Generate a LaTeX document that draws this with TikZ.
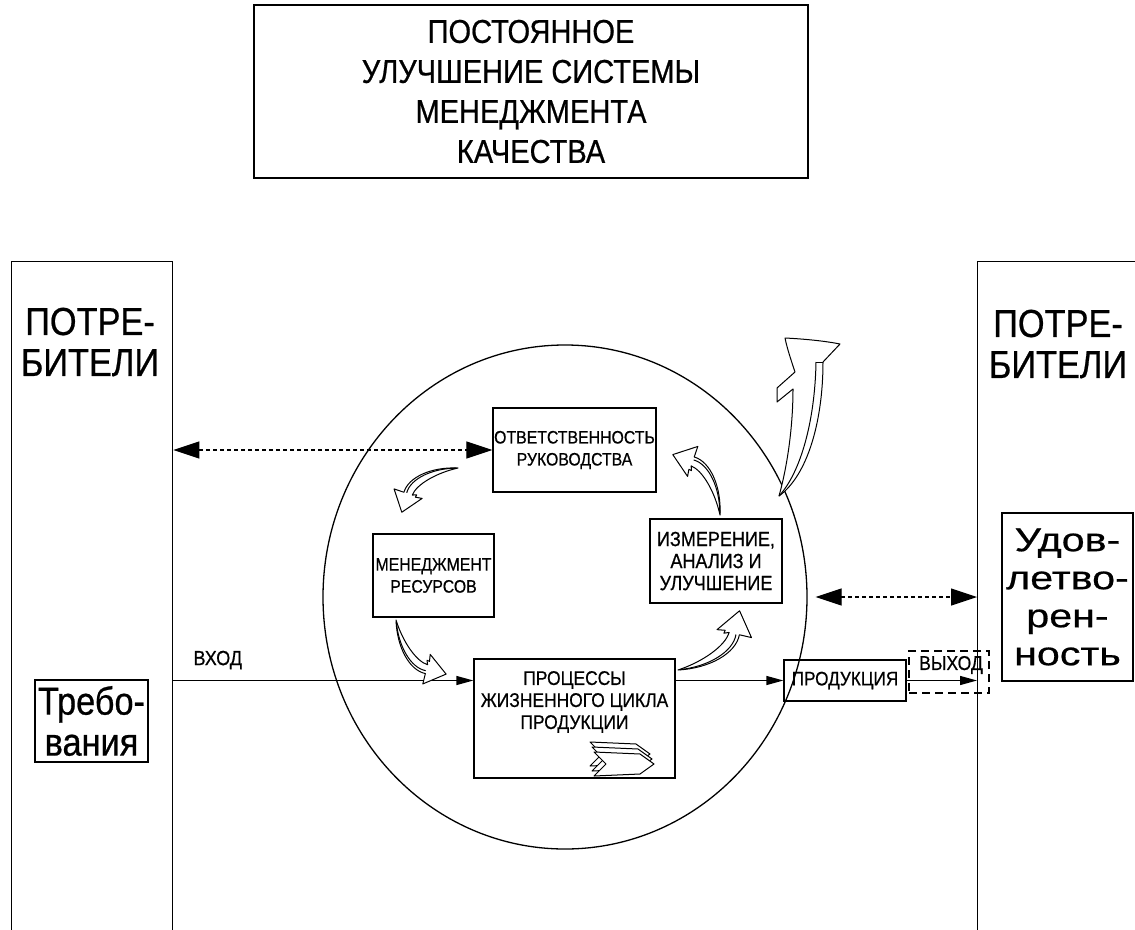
\documentclass[tikz,border=0pt]{standalone}
\usepackage{fontspec}
\setmainfont{Liberation Sans}
\newfontfamily\capsfont[FakeStretch=0.88, FakeBold=0.6]{Liberation Sans}
\newfontfamily\widefont[FakeStretch=1.25, FakeBold=0.6]{Liberation Sans}
\usetikzlibrary{arrows.meta,calc,shapes.geometric}

\tikzset{
  ribbon/.style={draw=black, line width=1pt, fill=white, line join=round},
  pics/swirl/.style={code={
    \draw[ribbon] (0,0) .. controls (20,18) and (45,25) .. (58.4,15.8) -- (64,24.8) -- (73,1.4)
      -- (48,-0.8) -- (52.5,4.5) -- (50,5.5) -- (53.6,8.2) .. controls (43,14) and (20,10) .. (0,0) -- cycle;
    \draw[ribbon, fill=none] (1.5,1) .. controls (20,16) and (44,22.5) .. (56.5,13.6);
  }}
}

\begin{document}
\begin{tikzpicture}[
  x=1pt, y=-1pt,
  frame/.style={draw=black, line width=1.3pt, inner sep=0pt},
  small/.style={font=\capsfont\fontsize{#1}{22}\selectfont, align=center},
  small/.default=19,
  big/.style={font=\capsfont\fontsize{39}{41}\selectfont, align=center},
  flow/.style={black, line width=1.3pt, -{Triangle[length=17pt,width=9pt]}},
  link/.style={black, line width=1.2pt, dash pattern=on 4pt off 3pt,
    {Triangle[length=26pt,width=17pt]}-{Triangle[length=26pt,width=17pt]}},
  dashbox/.style={draw=black, line width=1.6pt, dash pattern=on 8pt off 5pt,
    minimum width=80pt, minimum height=42pt, inner sep=0pt}
]
\useasboundingbox (0,0) rectangle (1135,929);

% top box
\node[frame, minimum width=554pt, minimum height=173pt, align=center,
  font=\capsfont\fontsize{33}{40}\selectfont] (improve) at (531,91.5)
  {ПОСТОЯННОЕ\\УЛУЧШЕНИЕ СИСТЕМЫ\\МЕНЕДЖМЕНТА\\КАЧЕСТВА};

% customers, left and right
\node[frame, minimum width=161pt, minimum height=720pt, anchor=north west] (custL) at (11,261) {};
\node[frame, minimum width=220pt, minimum height=720pt, anchor=north west] (custR) at (977,261) {};
\node[big] (custLtxt) at (90,342) {ПОТРЕ-\\БИТЕЛИ};
\node[big] (custRtxt) at (1058,344) {ПОТРЕ-\\БИТЕЛИ};
\node[frame, minimum width=113pt, minimum height=82pt, big] (req) at (91.5,721) {Требо-\\вания};
\node[frame, minimum width=131pt, minimum height=168pt, align=center,
  font=\widefont\fontsize{33}{38}\selectfont] (sat) at (1067.5,597) {Удов-\\летво-\\рен-\\ность};

% the cycle
\node[ellipse, draw=black, line width=1.3pt, minimum width=484pt, minimum height=504pt, inner sep=0pt] (cycle) at (565,597) {};
\node[frame, minimum width=163pt, minimum height=84pt, small=18] (resp) at (574.5,450) {ОТВЕТСТВЕННОСТЬ\\РУКОВОДСТВА};
\node[frame, minimum width=121pt, minimum height=83pt, small=18] (res) at (433.5,575.5) {МЕНЕДЖМЕНТ\\РЕСУРСОВ};
\node[frame, minimum width=132pt, minimum height=84pt, small=20.5] (meas) at (716,561) {ИЗМЕРЕНИЕ,\\АНАЛИЗ И\\УЛУЧШЕНИЕ};
\node[frame, minimum width=201pt, minimum height=119pt] (proc) at (574.5,718.5) {};
\node[small=19.8] (procTxt) at (574.5,702) {ПРОЦЕССЫ\\ЖИЗНЕННОГО ЦИКЛА\\ПРОДУКЦИИ};
\node[frame, minimum width=122pt, minimum height=41pt, small=19.5] (prod) at (845,680.5) {ПРОДУКЦИЯ};
\node[dashbox] (outbox) at (949,672) {};
\node[small=20] (outTxt) at (951,665) {ВЫХОД};
\node[small=20.5, anchor=west] (inTxt) at (190,660) {ВХОД};

% connectors
\draw[link] (custL.east |- resp.west) -- (resp.west);
\draw[flow] (custL.east |- prod.west) -- (proc.west |- prod.west);
\draw[flow] (proc.east |- prod.west) -- (prod.west);
\draw[flow] (prod.east) -- (custR.west |- prod.east);
\coordinate (measLink) at ($(cycle.east)+(8,0)$);
\draw[link] (measLink) -- (custR.west |- measLink);

% hollow arrows round the cycle
\pic[rotate=-140.7, scale=0.98] at (458,468) {swirl};
\pic[rotate=-46.1, scale=1.01] at (396,620) {swirl};
\pic[rotate=45, scale=1.17] at (678,670) {swirl};
\pic[rotate=129.1, scale=1.05] at (720,515) {swirl};

% improvement arrow out of the cycle
\draw[ribbon] (779,496) .. controls (789,460) and (793,420) .. (793,389) -- (777,402) -- (777,388)
  -- (795,372) .. controls (791,360) and (787,348) .. (785,338) .. controls (805,339) and (825,341) .. (840,344)
  -- (823,362) .. controls (823,420) and (808,475) .. (779,496) -- cycle;
\draw[ribbon, fill=none] (816,362) .. controls (815,420) and (801,472) .. (779,496);
\draw[ribbon, fill=none] (816,362) -- (823,362);

% chevrons in the process box
\foreach \d in {0,5,10}
  \draw[ribbon] ($(590,742)+(\d*0.4,\d)$) -- ++(46,2) -- ++(14,10) -- ++(-14,10) -- ++(-46,2) -- ++(12,-12) -- cycle;

\end{tikzpicture}
\end{document}
